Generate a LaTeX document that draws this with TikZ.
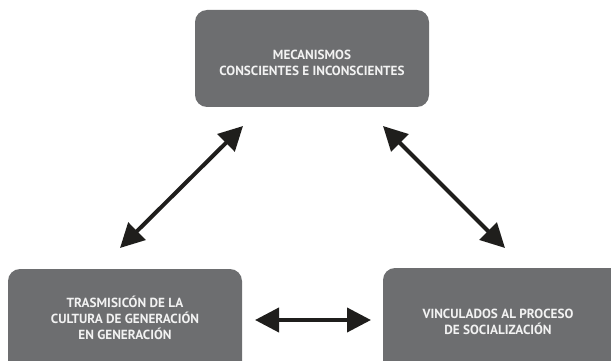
\documentclass[tikz,border=0pt]{standalone}
\usepackage{fontspec}
\setmainfont{PT Sans}
\newfontfamily\lblfont{PT Sans}
\usetikzlibrary{arrows.meta}
\definecolor{boxgray}{HTML}{6D6E70}
\definecolor{txtgray}{HTML}{F2F2F2}
\definecolor{arrowblk}{HTML}{1F1E1C}
\tikzset{
  box/.style={fill=boxgray, rounded corners=12pt},
  lbl/.style={text=txtgray, align=center, font=\lblfont\bfseries\fontsize{13.2}{16}\selectfont},
  link/.style={draw=arrowblk, line width=4pt, {Triangle[length=24pt,width=24pt]}-{Triangle[length=24pt,width=24pt]}}
}
\begin{document}
\begin{tikzpicture}[x=1pt,y=-1pt]
\useasboundingbox (0,0) rectangle (611,361);
\clip (0,0) rectangle (611,361);
\fill[box] (195,10) rectangle (429,107);
\fill[box] (8,269) rectangle (242,375);
\fill[box] (383,268) rectangle (625,375);
\node[lbl] (top) at (312,63) {MECANISMOS\\CONSCIENTES E INCONSCIENTES};
\node[lbl] (bl) at (125,318) {TRASMISICÓN DE LA\\CULTURA DE GENERACIÓN\\EN GENERACIÓN};
\node[lbl] (br) at (498,322) {VINCULADOS AL PROCESO\\DE SOCIALIZACIÓN};
\coordinate (a1) at (120,248);
\coordinate (a2) at (243,126);
\coordinate (b1) at (383,126);
\coordinate (b2) at (505,248);
\coordinate (c1) at (255,320);
\coordinate (c2) at (371,320);
\draw[link] (a1) -- (a2);
\draw[link] (b1) -- (b2);
\draw[link] (c1) -- (c2);
\end{tikzpicture}
\end{document}
